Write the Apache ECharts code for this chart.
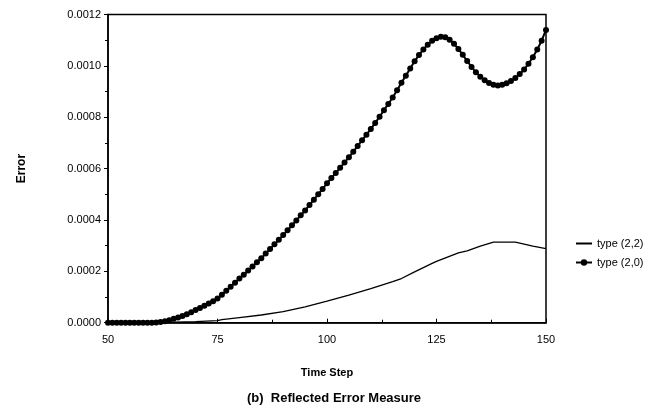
<!DOCTYPE html>
<html>
<head>
<meta charset="utf-8">
<script src="https://cdn.jsdelivr.net/npm/echarts@6/dist/echarts.min.js"></script>
<style>
html,body{margin:0;padding:0;background:#fff;}
#chart{width:664px;height:415px;}
</style>
</head>
<body>
<div id="chart"></div>
<script>
// Time steps for type (2,0) (marker at every step)
var steps20 = [50,51,52,53,54,55,56,57,58,59,60,61,62,63,64,65,66,67,68,69,70,71,72,73,74,75,76,77,78,79,80,81,82,83,84,85,86,87,88,89,90,91,92,93,94,95,96,97,98,99,100,101,102,103,104,105,106,107,108,109,110,111,112,113,114,115,116,117,118,119,120,121,122,123,124,125,126,127,128,129,130,131,132,133,134,135,136,137,138,139,140,141,142,143,144,145,146,147,148,149,150];
var vals20 = [0,0,0,0,0,0,0,0,0,0,0,
  0.000001,0.000003,0.000006,0.000010,0.000015,0.000020,0.000026,0.000033,0.000041,0.000049,
  0.000057,0.000066,0.000075,0.000084,0.000094,0.000109,0.000124,0.000140,0.000156,0.000172,
  0.000187,0.000203,0.000219,0.000235,0.000251,0.000269,0.000287,0.000305,0.000323,0.000341,
  0.000360,0.000379,0.000398,0.000418,0.000437,0.000458,0.000479,0.000500,0.000521,0.000543,
  0.000563,0.000583,0.000603,0.000624,0.000644,0.000666,0.000688,0.000710,0.000732,0.000754,
  0.000778,0.000802,0.000827,0.000852,0.000877,0.000905,0.000934,0.000962,0.000990,0.001018,
  0.001042,0.001064,0.001082,0.001098,0.001108,0.001113,0.001111,0.001102,0.001086,0.001066,
  0.001043,0.001019,0.000996,0.000975,0.000958,0.000944,0.000933,0.000926,0.000924,0.000926,
  0.000932,0.000941,0.000953,0.000968,0.000986,0.001008,0.001034,0.001064,0.001098,0.001140];
// type (2,2) line
var steps22 = [50,60,65,70,75,76,80,85,90,95,100,105,110,115,117,120,124,125,130,132,135,138,143,147,150];
var vals22 = [0,0,0.000002,0.000004,0.000008,0.000012,0.000020,0.000030,0.000043,0.000062,0.000084,0.000107,0.000133,0.000160,0.000172,0.000198,0.000231,0.000239,0.000272,0.000280,0.000298,0.000314,0.000314,0.000298,0.000288];
var seriesNames = ['type (2,2)', 'type (2,0)'];
var xTicks = [50, 75, 100, 125, 150];
var yTicks = [0, 0.0002, 0.0004, 0.0006, 0.0008, 0.0010, 0.0012];

function pairs(xs, ys){ return xs.map(function(x,i){ return [x, ys[i]]; }); }

var font = '"Liberation Sans", Arial, Helvetica, sans-serif';
var chart = echarts.init(document.getElementById('chart'));
chart.setOption({
  animation: false,
  backgroundColor: '#fff',
  title: {
    text: '(b)  Reflected Error Measure',
    left: 329, top: 387, textAlign: 'center',
    textStyle: {fontFamily: font, fontSize: 13, fontWeight: 'bold', color: '#000'}
  },
  legend: {
    orient: 'vertical', left: 570, top: 233, itemGap: 8,
    itemWidth: 16, itemHeight: 8,
    textStyle: {fontFamily: font, fontSize: 11, color: '#000'},
    data: [
      {name: seriesNames[0], itemStyle: {opacity: 0}},
      {name: seriesNames[1]}
    ]
  },
  grid: {left: 108, right: 118, top: 14.5, bottom: 92.3, show: true, borderColor: '#000', borderWidth: 1.5, backgroundColor: 'transparent'},
  xAxis: {
    type: 'value', min: xTicks[0], max: xTicks[xTicks.length-1], interval: 25,
    name: 'Time Step', nameLocation: 'middle', nameGap: 45,
    nameTextStyle: {fontFamily: font, fontSize: 11, fontWeight: 'bold', color: '#000'},
    axisLine: {lineStyle: {color: '#000', width: 1.5}},
    axisTick: {inside: true, length: 4, lineStyle: {color: '#000'}},
    minorTick: {show: true, splitNumber: 2, length: 3, lineStyle: {color: '#000'}},
    splitLine: {show: false},
    axisLabel: {fontFamily: font, fontSize: 11, color: '#000', margin: 12}
  },
  yAxis: {
    type: 'value', min: yTicks[0], max: yTicks[yTicks.length-1], interval: 0.0002,
    name: 'Error', nameLocation: 'middle', nameGap: 80, nameRotate: 90,
    nameTextStyle: {fontFamily: font, fontSize: 12, fontWeight: 'bold', color: '#000'},
    axisLine: {show: true, lineStyle: {color: '#000', width: 1.5}},
    axisTick: {show: true, inside: false, length: 4, lineStyle: {color: '#000'}},
    minorTick: {show: true, splitNumber: 2, length: 3, lineStyle: {color: '#000'}},
    splitLine: {show: false},
    axisLabel: {fontFamily: font, fontSize: 11, color: '#000', margin: 7,
      formatter: function(v){ return v.toFixed(4); }}
  },
  series: [
    {
      name: seriesNames[0], type: 'line', data: pairs(steps22, vals22),
      symbol: 'none', lineStyle: {color: '#000', width: 1.3}, itemStyle: {color: '#000'}
    },
    {
      name: seriesNames[1], type: 'line', data: pairs(steps20, vals20),
      symbol: 'circle', symbolSize: 6, showAllSymbol: true,
      lineStyle: {color: '#000', width: 2}, itemStyle: {color: '#000'}
    }
  ]
});
</script>
</body>
</html>
